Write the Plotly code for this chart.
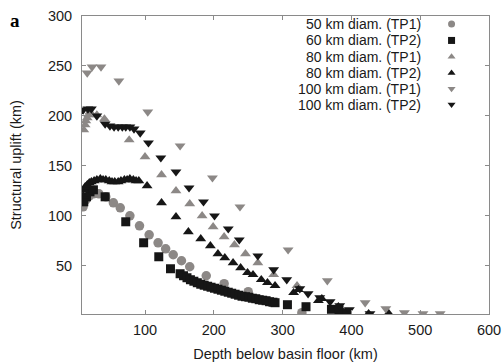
import plotly.graph_objects as go

# ---- data ----
d50_tp1_x = [10, 14, 19, 25, 33, 43, 54, 64, 78, 92, 106, 119, 130, 141, 153, 165, 189, 215, 250, 328]
d50_tp1_y = [109, 116, 120, 122, 122, 119, 113, 108, 100, 90, 81, 73, 67, 61, 55, 49, 40, 32, 24, 3]

d60_tp2_x = [11, 15, 20, 25, 42, 72, 98, 120, 137, 151, 156, 161, 166, 171, 176, 181, 186, 191, 196,
             201, 206, 211, 216, 221, 226, 231, 236, 241, 246, 251, 256, 261, 266, 271, 276, 281, 286,
             289, 307, 334, 371, 382, 394]
d60_tp2_y = [114, 119, 124, 126, 119, 94, 73, 59, 47, 42, 40, 38, 36, 34.5, 33, 31.5, 30.5, 29.5, 28.5,
             27.5, 26.5, 25.5, 24.5, 23.5, 22.5, 21.5, 20.5, 19.5, 19, 18.5, 17.5, 17, 16, 15.5, 15, 14,
             13.5, 13, 11, 9, 6.4, 5.5, 3]

d80_tp1_x = [11, 13, 14, 16, 18, 20, 30, 41, 77, 100, 124, 145, 165, 183, 199, 215, 230, 246, 264, 287, 321]
d80_tp1_y = [186, 191, 195, 198, 201, 204, 201, 197, 176, 159, 141, 125, 112, 100, 89, 79, 71, 62, 53, 41, 30]

d80_tp2_x = [10, 11, 13, 16, 19, 22, 26, 30, 35, 39, 43, 48, 52, 56, 61, 65, 70, 74, 78, 83, 87, 91,
             103, 124, 145, 163, 181, 195, 206, 216, 228, 239, 249, 257, 269, 278, 289, 316, 323, 352,
             357, 381, 425, 454]
d80_tp2_y = [120, 126, 129, 131, 133, 134, 135, 136, 137, 136, 136, 135, 134, 134, 134, 135, 136, 136,
             137, 136, 135, 135, 130, 113, 99, 84, 77, 70, 62, 58, 53, 48, 43, 41, 36, 33, 30, 23, 26,
             15, 17, 9, 2, 2.4]

d100_tp1_x = [16, 23, 36, 62, 104, 151, 198, 238, 308, 365, 420, 450, 477, 504, 529]
d100_tp1_y = [243, 249, 249, 235, 204, 170, 138, 109, 66, 35, 13, 7, 3, 2, 2]

d100_tp2_x = [10, 17, 22, 30, 42, 49, 55, 61, 67, 72, 78, 84, 93, 105, 123, 145, 164, 185, 201, 221,
              237, 264, 287, 306, 325, 337, 354, 369, 383, 397, 427]
d100_tp2_y = [206, 207, 207, 200, 192, 190, 189, 189, 189, 189, 189, 187, 183, 173, 158, 144, 128, 114,
              100, 87, 76, 60, 46, 36, 27, 22, 18, 14, 10, 6, 2]

series_names = ["50 km diam. (TP1)", "60 km diam. (TP2)", "80 km diam. (TP1)",
                "80 km diam. (TP2)", "100 km diam. (TP1)", "100 km diam. (TP2)"]
x_ticks = [100, 200, 300, 400, 500, 600]
y_ticks = [50, 100, 150, 200, 250, 300]

GRAY = "#8c8886"
BLACK = "#161616"
AXC = "#8a8a8a"
TXT = "#1a1a1a"
FONT = "Liberation Sans, Arial"

styles = [
    ("circle", GRAY, 9.5),
    ("square", BLACK, 9),
    ("triangle-up", GRAY, 9.5),
    ("triangle-up", BLACK, 9.5),
    ("triangle-down", GRAY, 9.5),
    ("triangle-down", BLACK, 9.5),
]
data = [
    (d50_tp1_x, d50_tp1_y), (d60_tp2_x, d60_tp2_y), (d80_tp1_x, d80_tp1_y),
    (d80_tp2_x, d80_tp2_y), (d100_tp1_x, d100_tp1_y), (d100_tp2_x, d100_tp2_y),
]

fig = go.Figure()
for (xs, ys), (sym, col, sz), name in zip(data, styles, series_names):
    fig.add_trace(go.Scatter(x=xs, y=ys, mode="markers", name=name, showlegend=False,
                             marker=dict(symbol=sym, color=col, size=sz, line=dict(width=0))))

# custom legend: right-aligned text with the symbol on the right
leg_y = [0.973, 0.918, 0.863, 0.809, 0.756, 0.703]
leg_sym_x = [0.908] * 6
for (sym, col, sz), name, ly in zip(styles, series_names, leg_y):
    fig.add_annotation(x=0.838, y=ly, xref="paper", yref="paper", text=name, showarrow=False,
                       xanchor="right", yanchor="middle",
                       font=dict(family=FONT, size=14, color=TXT))
fig.add_trace(go.Scatter(x=leg_sym_x, y=leg_y, mode="markers", xaxis="x2", yaxis="y2",
                         showlegend=False, hoverinfo="skip",
                         marker=dict(symbol=[s[0] for s in styles], color=[s[1] for s in styles],
                                     size=7, line=dict(width=0))))

fig.add_annotation(x=-0.165, y=0.985, xref="paper", yref="paper", text="<b>a</b>", showarrow=False,
                   xanchor="center", yanchor="middle",
                   font=dict(family="Liberation Serif, Times New Roman", size=19, color="#000"))

axis_common = dict(showgrid=False, zeroline=False, showline=True, linecolor=AXC, linewidth=1,
                   mirror="ticks", ticks="inside", ticklen=4, tickcolor=AXC, automargin=False,
                   tickfont=dict(family=FONT, size=14.5, color=TXT))

fig.update_layout(
    width=504, height=363,
    margin=dict(l=82, r=15, t=16, b=49, autoexpand=False),
    paper_bgcolor="white", plot_bgcolor="white",
    showlegend=False,
    xaxis=dict(range=[8.4, 600], tickvals=x_ticks, ticklabelstandoff=3,
               title=dict(text="Depth below basin floor (km)", standoff=11,
                          font=dict(family=FONT, size=14.5, color=TXT)),
               **axis_common),
    yaxis=dict(range=[1.7, 300], tickvals=y_ticks, ticklabelstandoff=6,
               title=dict(text="Structural uplift (km)", standoff=22,
                          font=dict(family=FONT, size=14.5, color=TXT)),
               **axis_common),
    xaxis2=dict(range=[0, 1], overlaying="x", visible=False, anchor="y2"),
    yaxis2=dict(range=[0, 1], overlaying="y", visible=False, anchor="x2"),
)

fig.write_html("out.html", config={"displayModeBar": False},
               post_script="document.body.style.margin='0';")
